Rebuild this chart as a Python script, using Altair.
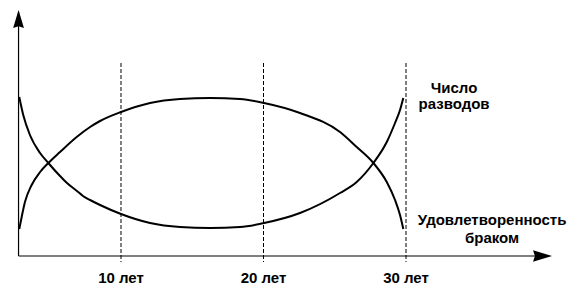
import altair as alt
import pandas as pd

# ---- data (x in years, y in arbitrary units) ----
years_a = [2.86, 3.14, 3.61, 4.32, 4.90, 5.72, 6.21, 6.91, 7.33, 7.83, 8.53, 10.0, 12.04, 14.14, 16.25,
           18.35, 20.04, 22.56, 25.37, 26.54, 27.71, 28.65, 29.23, 29.58, 29.81]
vals_a = [159, 141, 121, 103, 93, 80, 73, 65, 60, 56, 51, 42, 33, 29, 28,
          29, 33, 43, 63, 74, 93, 114, 133, 146, 158]

years_b = [2.86, 3.03, 3.26, 3.73, 4.32, 4.90, 5.72, 6.89, 7.83, 8.53, 10.0, 12.04, 14.14, 16.25,
           18.35, 20.04, 22.56, 25.37, 26.54, 27.71, 28.65, 29.23, 29.58, 29.81]
vals_b = [27, 39, 54, 71, 84, 93, 104, 119, 129, 135, 144, 153, 157, 158,
          157, 153, 143, 124, 109, 93, 74, 56, 41, 27]

tick_years = [10, 20, 30]
tick_labels = ["10 лет", "20 лет", "30 лет"]

label_text = ["Число", "разводов", "Удовлетворенность", "браком"]
label_x = [33.37, 33.37, 36.04, 36.04]
label_y = [163, 147, 31, 13]

origin_x = 2.81
x_end = 39.76
y_end = 244

df_a = pd.DataFrame({"x": years_a, "y": vals_a})
df_b = pd.DataFrame({"x": years_b, "y": vals_b})
df_ticks = pd.DataFrame({"x": tick_years, "label": tick_labels,
                         "y": [-27] * 3, "top": [193] * 3, "bottom": [-6] * 3})
df_labels = pd.DataFrame({"x": label_x, "y": label_y, "text": label_text})

xs = alt.Scale(domain=[1.509, 42.28], nice=False, zero=False)
ys = alt.Scale(domain=[-43, 256], nice=False, zero=False)

def X(f="x"):
    return alt.X(f"{f}:Q", scale=xs, axis=None)

def Y(f="y"):
    return alt.Y(f"{f}:Q", scale=ys, axis=None)

curve_a = alt.Chart(df_a).mark_line(color="black", strokeWidth=2, interpolate="monotone").encode(x=X(), y=Y())
curve_b = alt.Chart(df_b).mark_line(color="black", strokeWidth=2, interpolate="monotone").encode(x=X(), y=Y())

dashes = alt.Chart(df_ticks).mark_rule(color="black", strokeWidth=1, strokeDash=[4, 2]).encode(
    x=X(), y=Y("top"), y2=alt.Y2("bottom:Q"))

tick_text = alt.Chart(df_ticks).mark_text(
    font="Liberation Sans", fontSize=15, fontWeight="bold", baseline="alphabetic", align="center", color="black"
).encode(x=X(), y=Y(), text="label:N")

labels = alt.Chart(df_labels).mark_text(
    font="Liberation Sans", fontSize=15, fontWeight="bold", baseline="alphabetic", align="center", color="black"
).encode(x=X(), y=Y(), text="text:N")

df_axes = pd.DataFrame({"x": [origin_x], "x2": [x_end], "y": [0], "y2": [y_end]})
y_axis = alt.Chart(df_axes).mark_rule(color="black", strokeWidth=1.2).encode(
    x=X(), y=Y(), y2=alt.Y2("y2:Q"))
x_axis = alt.Chart(df_axes).mark_rule(color="black", strokeWidth=1.2).encode(
    x=X(), x2=alt.X2("x2:Q"), y=Y())

df_arrow_up = pd.DataFrame({"x": [origin_x], "y": [237]})
df_arrow_right = pd.DataFrame({"x": [39.58], "y": [0]})
arrow_up = alt.Chart(df_arrow_up).mark_point(
    shape="M0,-1L0.6,1L0,0.8L-0.6,1Z", size=324, filled=True, color="black", opacity=1, strokeWidth=0
).encode(x=X(), y=Y())
arrow_right = alt.Chart(df_arrow_right).mark_point(
    shape="M1,0L-1,-0.6L-0.8,0L-1,0.6Z", size=361, filled=True, color="black", opacity=1, strokeWidth=0
).encode(x=X(), y=Y())

chart = alt.layer(
    dashes, y_axis, x_axis, arrow_up, arrow_right, curve_a, curve_b, tick_text, labels
).properties(width=581, height=299, padding=0, autosize="none").configure_view(stroke=None)

chart.save("out.html", embed_options={"renderer": "svg", "actions": False})
